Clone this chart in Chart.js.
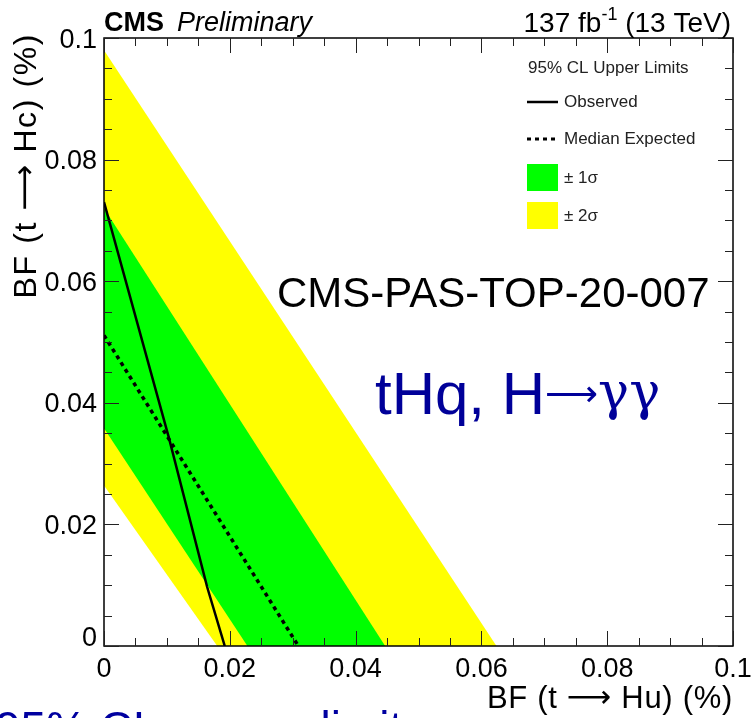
<!DOCTYPE html>
<html>
<head>
<meta charset="utf-8">
<script src="https://cdn.jsdelivr.net/npm/chart.js@4.4.1/dist/chart.umd.min.js"></script>
<style>
  body { margin: 0; background: #fff; }
  canvas { display: block; }
</style>
</head>
<body>
<canvas id="limitChart" width="751" height="718"></canvas>
<script>
// x = BF(t -> Hu) in %, y = BF(t -> Hc) in %
const observedX = [0, 0.0103, 0.0164, 0.0192];
const observedY = [0.073, 0.0343, 0.0097, 0];
const expectedX = [0, 0.0309];
const expectedY = [0.0511, 0];

// band edges: [x, y] at the two axes
const band2Upper = [[0, 0.098], [0.0624, 0]];
const band1Upper = [[0, 0.072], [0.0447, 0]];
const band1Lower = [[0, 0.0358], [0.0228, 0]];
const band2Lower = [[0, 0.0264], [0.018, 0]];

const xTicks = [0, 0.02, 0.04, 0.06, 0.08, 0.1];
const xTickLabels = ["0", "0.02", "0.04", "0.06", "0.08", "0.1"];
const yTicks = [0, 0.02, 0.04, 0.06, 0.08, 0.1];
const yTickLabels = ["0", "0.02", "0.04", "0.06", "0.08", "0.1"];

const legendLabels = ["95% CL Upper Limits", "Observed", "Median Expected", "\u00b1 1\u03c3", "\u00b1 2\u03c3"];

const YELLOW = "#ffff00";
const GREEN = "#00ff00";
const SANS = '"Liberation Sans", Arial, sans-serif';
const ARROW = '"DejaVu Sans", sans-serif';

const toPoints = (xs, ys) => xs.map((x, i) => ({ x: x, y: ys[i] }));
const bandPolygon = (upper, lower) =>
  upper.concat(lower.slice().reverse()).map((p) => ({ x: p[0], y: p[1] }));

// text made of pieces with their own fonts; align "left" or "right"
const drawRich = (ctx, parts, x, y, align) => {
  const widths = parts.map((p) => {
    ctx.font = p.font;
    return ctx.measureText(p.text).width;
  });
  const total = widths.reduce((s, w) => s + w, 0);
  let cx = align === "right" ? x - total : x;
  ctx.textAlign = "left";
  parts.forEach((p, i) => {
    ctx.font = p.font;
    ctx.fillText(p.text, cx, y + (p.dy || 0));
    cx += widths[i];
  });
};

const titleParts = (flavour, size) => [
  { text: "BF (t ", font: size + "px " + SANS },
  { text: "\u27f6", font: size + "px " + ARROW, dy: -1 },
  { text: " H" + flavour + ") (%)", font: size + "px " + SANS }
];

// ROOT style frame, inward ticks, labels and all the text
const rootStyle = {
  id: "rootStyle",
  afterDraw(chart) {
    const ctx = chart.ctx;
    const a = chart.chartArea;
    const xs = chart.scales.x;
    const ys = chart.scales.y;
    ctx.save();

    ctx.strokeStyle = "#000";
    ctx.lineWidth = 1.5;
    ctx.strokeRect(a.left, a.top, a.right - a.left, a.bottom - a.top);

    // ticks every 0.005, major every 0.02
    ctx.lineWidth = 1;
    ctx.strokeStyle = "#222";
    for (let i = 0; i <= 20; i++) {
      const v = i * 0.005;
      const len = i % 4 === 0 ? 15 : 8;
      const px = Math.round(xs.getPixelForValue(v)) + 0.5;
      const py = Math.round(ys.getPixelForValue(v)) + 0.5;
      ctx.beginPath();
      ctx.moveTo(px, a.bottom); ctx.lineTo(px, a.bottom - len);
      ctx.moveTo(px, a.top); ctx.lineTo(px, a.top + len);
      ctx.moveTo(a.left, py); ctx.lineTo(a.left + len, py);
      ctx.moveTo(a.right, py); ctx.lineTo(a.right - len, py);
      ctx.stroke();
    }

    ctx.fillStyle = "#000";
    ctx.font = "27px " + SANS;
    ctx.textAlign = "center";
    ctx.textBaseline = "alphabetic";
    xTicks.forEach((v, i) => {
      ctx.fillText(xTickLabels[i], xs.getPixelForValue(v), 677);
    });
    ctx.textAlign = "right";
    yTicks.forEach((v, i) => {
      const off = v === 0 ? -10 : 0;
      ctx.fillText(yTickLabels[i], 97, ys.getPixelForValue(v) + 9.5 + off);
    });

    // axis titles
    ctx.letterSpacing = "0.7px";
    drawRich(ctx, titleParts("u", 31), 733, 708, "right");
    ctx.save();
    ctx.letterSpacing = "1.6px";
    ctx.translate(36, 33);
    ctx.rotate(-Math.PI / 2);
    drawRich(ctx, titleParts("c", 32), 0, 0, "right");
    ctx.restore();
    ctx.letterSpacing = "0px";

    // header
    ctx.textAlign = "left";
    ctx.font = "bold 27px " + SANS;
    ctx.fillText("CMS", 104, 31);
    ctx.font = "italic 27px " + SANS;
    ctx.fillText("Preliminary", 177, 31);
    drawRich(ctx, [
      { text: "137 fb", font: "28px " + SANS },
      { text: "-1", font: "18px " + SANS, dy: -12 },
      { text: " (13 TeV)", font: "28px " + SANS }
    ], 731, 32, "right");

    // legend
    ctx.fillStyle = "#222";
    ctx.font = "17px " + SANS;
    ctx.textAlign = "left";
    ctx.textBaseline = "middle";
    ctx.fillText(legendLabels[0], 528, 68);
    ctx.fillText(legendLabels[1], 564, 102);
    ctx.fillText(legendLabels[2], 564, 139);
    ctx.fillText(legendLabels[3], 564, 178);
    ctx.fillText(legendLabels[4], 564, 216);
    ctx.strokeStyle = "#000";
    ctx.lineWidth = 2.5;
    ctx.beginPath();
    ctx.moveTo(527, 102); ctx.lineTo(558, 102);
    ctx.stroke();
    ctx.lineWidth = 3;
    ctx.setLineDash([4, 4]);
    ctx.beginPath();
    ctx.moveTo(527, 139); ctx.lineTo(559, 139);
    ctx.stroke();
    ctx.setLineDash([]);
    ctx.fillStyle = GREEN;
    ctx.fillRect(527, 164, 31, 27);
    ctx.fillStyle = YELLOW;
    ctx.fillRect(527, 202, 31, 27);

    // annotations
    ctx.textBaseline = "alphabetic";
    ctx.fillStyle = "#000";
    ctx.font = "42px " + SANS;
    ctx.fillText("CMS-PAS-TOP-20-007", 277, 307);

    ctx.fillStyle = "#000099";
    drawRich(ctx, [
      { text: "tHq, H", font: "60px " + SANS },
      { text: "\u27f6", font: "37px " + ARROW, dy: -8 },
      { text: "\u03b3\u03b3", font: '52px "DejaVu Serif", serif', dy: -5 }
    ], 375, 414, "left");

    ctx.fillStyle = "#0000a0";
    ctx.font = "46px " + SANS;
    ctx.fillText("95% CL", -5, 744);
    ctx.fillText("upper limits", 190, 744);

    ctx.restore();
  }
};

new Chart(document.getElementById("limitChart"), {
  type: "scatter",
  data: {
    datasets: [
      {
        label: "\u00b1 2\u03c3",
        data: bandPolygon(band2Upper, band2Lower),
        showLine: true,
        fill: "shape",
        backgroundColor: YELLOW,
        borderWidth: 0,
        pointRadius: 0,
        order: 4
      },
      {
        label: "\u00b1 1\u03c3",
        data: bandPolygon(band1Upper, band1Lower),
        showLine: true,
        fill: "shape",
        backgroundColor: GREEN,
        borderWidth: 0,
        pointRadius: 0,
        order: 3
      },
      {
        label: "Median Expected",
        data: toPoints(expectedX, expectedY),
        showLine: true,
        fill: false,
        borderColor: "#000",
        borderWidth: 3.5,
        borderDash: [4, 4],
        pointRadius: 0,
        order: 2
      },
      {
        label: "Observed",
        data: toPoints(observedX, observedY),
        showLine: true,
        fill: false,
        borderColor: "#000",
        borderWidth: 2.5,
        pointRadius: 0,
        order: 1
      }
    ]
  },
  options: {
    responsive: false,
    animation: false,
    devicePixelRatio: 1,
    layout: { padding: { left: 104, top: 38, right: 18, bottom: 72 } },
    scales: {
      x: { type: "linear", min: 0, max: 0.1, display: false },
      y: { type: "linear", min: 0, max: 0.1, display: false }
    },
    plugins: {
      legend: { display: false },
      tooltip: { enabled: false }
    }
  },
  plugins: [rootStyle]
});
</script>
</body>
</html>
